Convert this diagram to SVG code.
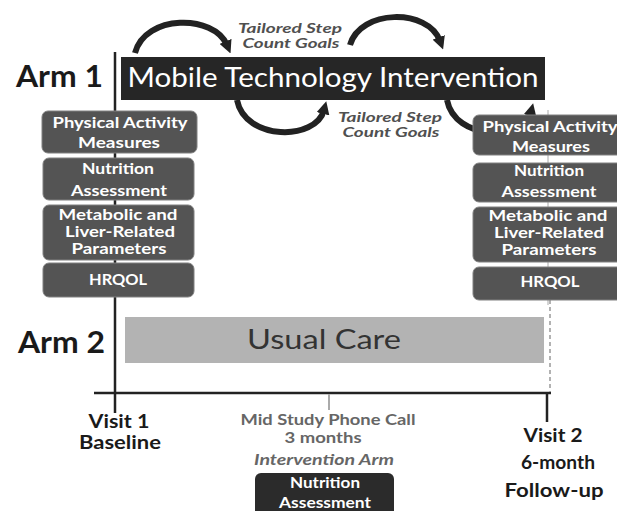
<svg xmlns="http://www.w3.org/2000/svg" width="617" height="511" viewBox="0 0 617 511">
<style>
text{font-family:Lato,"Liberation Sans",sans-serif;}
.arm{font-size:30px;font-weight:bold;fill:#1a1a1a;}
.box{fill:#545454;stroke:#808080;stroke-width:1;}
.bt{fill:#fff;font-size:15px;font-weight:bold;text-anchor:middle;}
.goal{fill:#505050;font-size:13px;font-weight:bold;font-style:italic;text-anchor:middle;}
.arc{fill:none;stroke:#222;stroke-width:6;}
.lbl{fill:#1a1a1a;font-size:18px;font-weight:bold;text-anchor:middle;}
.mid{fill:#666;font-size:15px;font-weight:bold;text-anchor:middle;}
</style>
<defs>
<marker id="ah" viewBox="0 0 10 10" refX="3" refY="5" markerWidth="13" markerHeight="13" markerUnits="userSpaceOnUse" orient="auto">
<path d="M0,0 L10,5 L0,10 z" fill="#222"/>
</marker>
</defs>
<rect width="617" height="511" fill="#fff"/>

<g id="connectors">
<line x1="115" y1="52" x2="115" y2="413" stroke="#222" stroke-width="2.5"/>
<line x1="94" y1="393" x2="551" y2="393" stroke="#222" stroke-width="2.5"/>
<line x1="547" y1="393" x2="547" y2="422" stroke="#222" stroke-width="2.5"/>
<line x1="329" y1="394" x2="329" y2="410" stroke="#aaa" stroke-width="2"/>
<line x1="550" y1="300" x2="550" y2="392" stroke="#999" stroke-width="1.5" stroke-dasharray="4 3"/>
<line x1="548" y1="110" x2="548" y2="305" stroke="#aaa" stroke-width="1"/>
<path class="arc" d="M135,53 C145,14 214,14 227,45" marker-end="url(#ah)"/>
<path class="arc" d="M350,45 C360,9 428,8 440,41" marker-end="url(#ah)"/>
<path class="arc" d="M237,100 C245,141 316,141 324,110" marker-end="url(#ah)"/>
<path class="arc" d="M447,100 C455,141 524,141 531,112" marker-end="url(#ah)"/>
</g>

<g id="arm1-label"><text class="arm" x="16" y="87" textLength="87" lengthAdjust="spacingAndGlyphs">Arm 1</text></g>
<g id="arm2-label"><text class="arm" x="18" y="353" textLength="87" lengthAdjust="spacingAndGlyphs">Arm 2</text></g>

<g id="goal-top">
<text class="goal" x="290" y="33" textLength="104" lengthAdjust="spacingAndGlyphs">Tailored Step</text>
<text class="goal" x="291" y="48" textLength="97" lengthAdjust="spacingAndGlyphs">Count Goals</text>
</g>
<g id="goal-bottom">
<text class="goal" x="390" y="122" textLength="104" lengthAdjust="spacingAndGlyphs">Tailored Step</text>
<text class="goal" x="391" y="137" textLength="97" lengthAdjust="spacingAndGlyphs">Count Goals</text>
</g>

<g id="mobile-intervention">
<rect x="121" y="57" width="424" height="43" fill="#262626"/>
<text x="333" y="87" fill="#fff" font-size="27" text-anchor="middle" textLength="411" lengthAdjust="spacingAndGlyphs">Mobile Technology Intervention</text>
</g>

<g id="l-pa"><rect class="box" x="42" y="111" width="155" height="42" rx="6"/>
<text class="bt" x="120" y="128" textLength="135" lengthAdjust="spacingAndGlyphs">Physical Activity</text>
<text class="bt" x="119" y="148" textLength="82" lengthAdjust="spacingAndGlyphs">Measures</text></g>
<g id="l-nut"><rect class="box" x="43" y="158" width="151" height="42" rx="6"/>
<text class="bt" x="118" y="174" textLength="72" lengthAdjust="spacingAndGlyphs">Nutrition</text>
<text class="bt" x="119" y="196" textLength="96" lengthAdjust="spacingAndGlyphs">Assessment</text></g>
<g id="l-met"><rect class="box" x="43" y="205" width="151" height="55" rx="6"/>
<text class="bt" x="118" y="220" textLength="119" lengthAdjust="spacingAndGlyphs">Metabolic and</text>
<text class="bt" x="120" y="237" textLength="110" lengthAdjust="spacingAndGlyphs">Liver-Related</text>
<text class="bt" x="119" y="254" textLength="95" lengthAdjust="spacingAndGlyphs">Parameters</text></g>
<g id="l-hrqol"><rect class="box" x="43" y="263" width="151" height="34" rx="6"/>
<text class="bt" x="118" y="285" textLength="58" lengthAdjust="spacingAndGlyphs">HRQOL</text></g>

<g id="r-pa"><rect class="box" x="473" y="115" width="152" height="40" rx="6"/>
<text class="bt" x="550" y="132" textLength="135" lengthAdjust="spacingAndGlyphs">Physical Activity</text>
<text class="bt" x="551" y="152" textLength="78" lengthAdjust="spacingAndGlyphs">Measures</text></g>
<g id="r-nut"><rect class="box" x="473" y="163" width="152" height="39" rx="6"/>
<text class="bt" x="549" y="176" textLength="70" lengthAdjust="spacingAndGlyphs">Nutrition</text>
<text class="bt" x="549" y="197" textLength="95" lengthAdjust="spacingAndGlyphs">Assessment</text></g>
<g id="r-met"><rect class="box" x="473" y="207" width="152" height="55" rx="6"/>
<text class="bt" x="548" y="221" textLength="119" lengthAdjust="spacingAndGlyphs">Metabolic and</text>
<text class="bt" x="549" y="238" textLength="110" lengthAdjust="spacingAndGlyphs">Liver-Related</text>
<text class="bt" x="549" y="255" textLength="95" lengthAdjust="spacingAndGlyphs">Parameters</text></g>
<g id="r-hrqol"><rect class="box" x="473" y="267" width="152" height="33" rx="6"/>
<text class="bt" x="550" y="287" textLength="59" lengthAdjust="spacingAndGlyphs">HRQOL</text></g>

<g id="usual-care">
<rect x="125" y="317" width="419" height="46" fill="#b3b3b3"/>
<text x="324" y="349" fill="#333" font-size="26" text-anchor="middle" textLength="154" lengthAdjust="spacingAndGlyphs">Usual Care</text>
</g>

<g id="visit1">
<text class="lbl" x="119" y="428" font-size="17" textLength="61" lengthAdjust="spacingAndGlyphs">Visit 1</text>
<text class="lbl" x="120" y="449" font-size="17" textLength="82" lengthAdjust="spacingAndGlyphs">Baseline</text>
</g>

<g id="mid-study">
<text class="mid" x="328" y="425" textLength="175" lengthAdjust="spacingAndGlyphs">Mid Study Phone Call</text>
<text class="mid" x="323" y="443" textLength="77" lengthAdjust="spacingAndGlyphs">3 months</text>
<text class="mid" x="324" y="465" font-style="italic" textLength="140" lengthAdjust="spacingAndGlyphs">Intervention Arm</text>
</g>

<g id="mid-nutrition">
<rect x="255" y="473" width="139" height="50" rx="6" fill="#2b2b2b"/>
<text class="bt" x="325" y="488" textLength="70" lengthAdjust="spacingAndGlyphs">Nutrition</text>
<text class="bt" x="325" y="508" textLength="92" lengthAdjust="spacingAndGlyphs">Assessment</text>
</g>

<g id="visit2">
<text class="lbl" x="553" y="442" textLength="59" lengthAdjust="spacingAndGlyphs">Visit 2</text>
<text class="lbl" x="558" y="469" textLength="74" lengthAdjust="spacingAndGlyphs">6-month</text>
<text class="lbl" x="554" y="497" textLength="99" lengthAdjust="spacingAndGlyphs">Follow-up</text>
</g>
</svg>
